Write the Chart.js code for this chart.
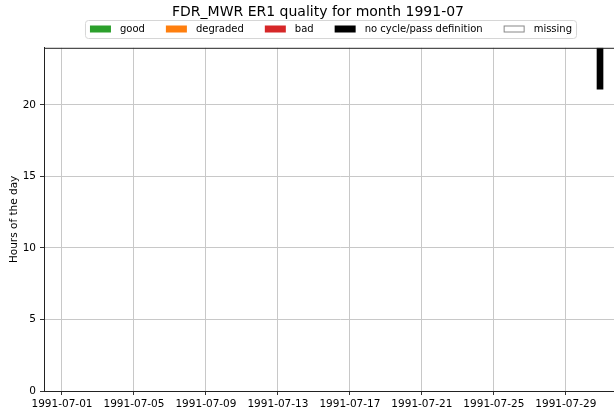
<!DOCTYPE html>
<html>
<head>
<meta charset="utf-8">
<script src="https://cdn.jsdelivr.net/npm/chart.js@4"></script>
<style>
  html, body { margin: 0; padding: 0; background: #fff; overflow: hidden; }
  #wrap { width: 614px; height: 412px; overflow: hidden; }
  #wrap canvas { display: block; }
</style>
</head>
<body>
<div id="wrap"><canvas id="qualityChart" width="640" height="412"></canvas></div>
<script>
const monthStart = "1991-07-01";
const categories = ["good", "degraded", "bad", "no cycle/pass definition", "missing"];
const fillColors = ["#2ca02c", "#ff7f0e", "#d62728", "#000000", "#ffffff"];
const edgeColors = ["#2ca02c", "#ff7f0e", "#d62728", "#000000", "#888888"];
// days since 1991-07-01 and [start hour, end hour] of each block
const goodBlocks = [];
const degradedBlocks = [];
const badBlocks = [];
const noDefBlocks = [{ x: 29.9, y: [21.1, 24] }];
const missingBlocks = [];
const dayTicks = [0, 4, 8, 12, 16, 20, 24, 28];
const hourTicks = [0, 5, 10, 15, 20];

function dayLabel(d) {
	const t = new Date(monthStart + "T00:00:00Z");
	t.setUTCDate(t.getUTCDate() + d);
	return t.toISOString().slice(0, 10);
}

// matplotlib-like legend box + axes frame
const frame = {
	id: "frame",
	afterDraw(chart) {
		const c = chart.ctx;
		const a = chart.chartArea;
		c.save();
		c.strokeStyle = "#222";
		c.lineWidth = 1;
		c.strokeRect(a.left + 0.5, a.top + 0.5, a.right - a.left, a.bottom - a.top);

		c.font = "10px 'DejaVu Sans'";
		c.textBaseline = "middle";
		const boxW = 21, boxH = 7, gapText = 9, gapItem = 21;
		const widths = categories.map((t) => c.measureText(t).width);
		let total = 0;
		widths.forEach((w, i) => { total += boxW + gapText + w + (i < widths.length - 1 ? gapItem : 0); });
		let x = 331 - total / 2;
		const y = 29;
		c.strokeStyle = "#d6d6d6";
		c.beginPath();
		c.roundRect(x - 4.5, 20.5, total + 9, 18, 3);
		c.stroke();
		categories.forEach((t, i) => {
			c.fillStyle = fillColors[i];
			c.fillRect(x, y - boxH / 2, boxW, boxH);
			if (i === 4) {
				c.strokeStyle = edgeColors[i];
				c.strokeRect(x + 0.5, y - boxH / 2 + 0.5, boxW - 1, boxH - 1);
			}
			c.fillStyle = "#000";
			c.fillText(t, x + boxW + gapText, y);
			x += boxW + gapText + widths[i] + gapItem;
		});
		c.restore();
	},
};

const allBlocks = [goodBlocks, degradedBlocks, badBlocks, noDefBlocks, missingBlocks];

new Chart(document.getElementById("qualityChart").getContext("2d"), {
	type: "bar",
	data: {
		datasets: categories.map((name, i) => ({
			label: name,
			data: allBlocks[i],
			backgroundColor: fillColors[i],
			borderColor: edgeColors[i],
			borderWidth: i === 4 ? 1 : 0,
			barThickness: 6,
			grouped: false,
		})),
	},
	options: {
		responsive: false,
		animation: false,
		layout: { padding: { left: 0, right: 4, top: 4, bottom: 0 } },
		plugins: {
			title: {
				display: true,
				text: "FDR_MWR ER1 quality for month 1991-07",
				color: "#000",
				font: { family: "DejaVu Sans", size: 14, weight: "normal" },
				padding: { top: 0, bottom: 27 },
			},
			legend: { display: false },
			tooltip: { enabled: false },
		},
		scales: {
			x: {
				type: "linear",
				offset: false,
				min: -1,
				max: 31.9,
				afterBuildTicks: (s) => { s.ticks = dayTicks.map((v) => ({ value: v })); },
				afterFit: (s) => { s.height = 21; },
				ticks: {
					callback: (v) => dayLabel(v),
					maxRotation: 0,
					autoSkip: false,
					color: "#000",
					padding: 3,
					font: { family: "DejaVu Sans", size: 10.5 },
				},
				grid: { offset: false, color: "#c8c8c8", tickLength: 4, tickColor: "#333" },
				border: { color: "#222" },
			},
			y: {
				min: 0,
				max: 24,
				afterBuildTicks: (s) => { s.ticks = hourTicks.map((v) => ({ value: v })); },
				afterFit: (s) => { s.width = 44; },
				ticks: {
					color: "#000",
					padding: 4,
					font: { family: "DejaVu Sans", size: 10.5 },
				},
				title: {
					display: true,
					text: "Hours of the day",
					color: "#000",
					padding: { top: 8, bottom: 0 },
					font: { family: "DejaVu Sans", size: 10.5 },
				},
				grid: { color: "#c8c8c8", tickLength: 4, tickColor: "#333" },
				border: { color: "#222" },
			},
		},
	},
	plugins: [frame],
});
</script>
</body>
</html>
